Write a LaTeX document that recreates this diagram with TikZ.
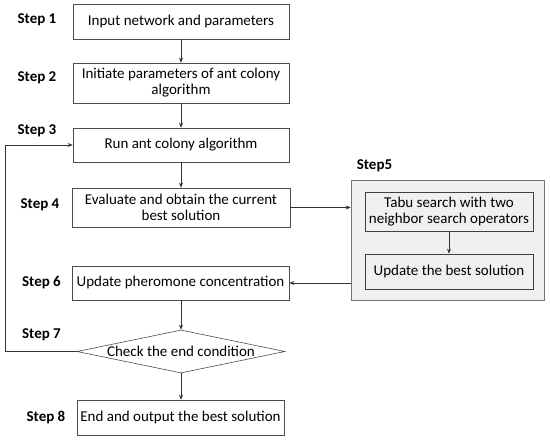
\documentclass[tikz,border=0pt]{standalone}
\usepackage{fontspec}
\setmainfont{Carlito}
\usetikzlibrary{shapes.geometric,arrows.meta}
\begin{document}
\begin{tikzpicture}[x=1pt,y=-1pt,
  txt/.style={font=\fontsize{15}{16}\selectfont},
  box/.style={txt,draw=black!70,line width=0.6pt,minimum height=35pt,align=center,inner sep=1pt},
  inbox/.style={txt,draw=black!75,line width=0.6pt,fill=black!6,align=center,inner sep=1pt},
  steplbl/.style={font=\bfseries\fontsize{15}{16}\selectfont,anchor=center},
  arr/.style={-{Stealth[length=5pt,width=4pt]},line width=0.6pt,draw=black!80}]
\useasboundingbox (0,0) rectangle (550,441);
% main boxes
\node[box,minimum width=216pt,minimum height=35pt] (b1) at (181,21.5) {Input network and parameters};
\node[box,minimum width=216pt,minimum height=40pt] (b2) at (181,83) {Initiate parameters of ant colony\\algorithm};
\node[box,minimum width=216pt,minimum height=34pt] (b3) at (181,145) {Run ant colony algorithm};
\node[box,minimum width=218pt,minimum height=39pt] (b4) at (181,207.5) {Evaluate and obtain the current\\best solution};
\node[box,minimum width=217pt,minimum height=34pt] (b6) at (180.5,283) {Update pheromone concentration};
\node[draw=black!70,line width=0.6pt,diamond,aspect=4.8,inner sep=0pt,minimum width=208pt,minimum height=43pt] (d7) at (181,351.5) {};
\node[txt] (d7t) at (d7.center) {Check the end condition};
\node[box,minimum width=207pt,minimum height=35pt] (b8) at (180.5,417.5) {End and output the best solution};
% step 5 group
\node[draw=black!55,line width=0.6pt,fill=black!6,minimum width=193pt,minimum height=120pt] (g5) at (447.5,240) {};
\node[inbox,minimum width=168pt,minimum height=39pt] (t5) at (449,211.5) {Tabu search with two\\neighbor search operators};
\node[inbox,minimum width=168pt,minimum height=35pt] (u5) at (449,271.5) {Update the best solution};
% step labels
\node[steplbl] (s1) at (37,20) {Step 1};
\node[steplbl] (s2) at (37,78) {Step 2};
\node[steplbl] (s3) at (37,131) {Step 3};
\node[steplbl] (s4) at (40,205) {Step 4};
\node[steplbl] (s5) at (374.5,166) {Step5};
\node[steplbl] (s6) at (41.5,283) {Step 6};
\node[steplbl] (s7) at (41.5,335) {Step 7};
\node[steplbl] (s8) at (46,418) {Step 8};
% connectors
\draw[arr] (b1.south) -- (b2.north);
\draw[arr] (b2.south) -- (b3.north);
\draw[arr] (b3.south) -- (b4.north);
\draw[arr] (b6.south -| d7.north) -- (d7.north);
\draw[arr] (d7.south) -- (b8.north -| d7.south);
\draw[arr] (b4.east) -- (b4.east -| g5.west);
\draw[arr] (g5.west |- b6.east) -- (b6.east);
\draw[arr] (t5.south) -- (u5.north);
\coordinate (lb) at (5,351.5);
\coordinate (lt) at (5,145);
\draw[arr] (d7.west) -- (lb) -- (lt) -- (b3.west);
\end{tikzpicture}
\end{document}
